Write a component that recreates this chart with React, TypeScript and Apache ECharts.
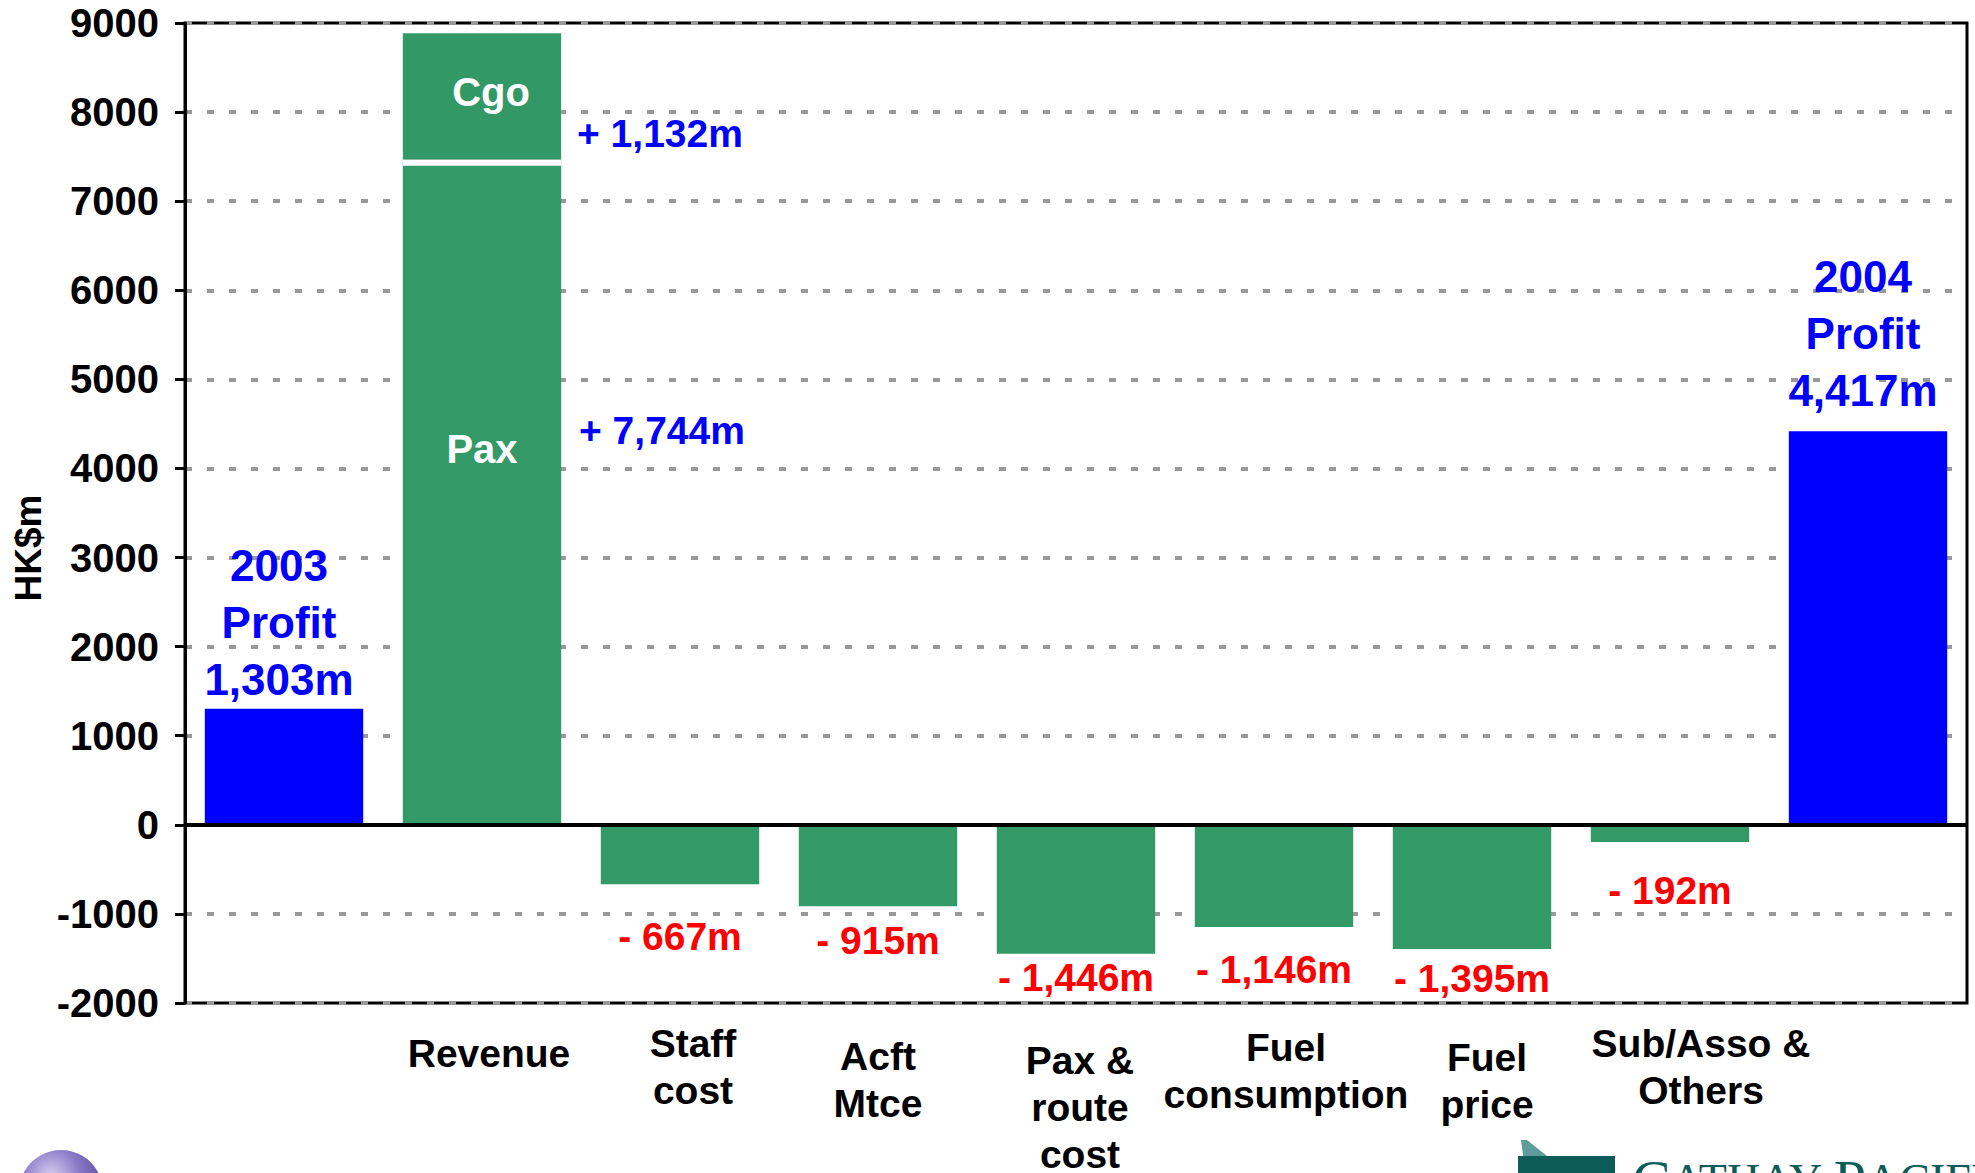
import React, { useEffect, useRef } from 'react';
import * as echarts from 'echarts';

// ---- data ----
const categories = ['', 'Revenue', 'Staff\ncost', 'Acft\nMtce', 'Pax &\nroute\ncost', 'Fuel\nconsumption', 'Fuel\nprice', 'Sub/Asso &\nOthers', ''];
const profitValues: (number | string)[] = [1303, '-', '-', '-', '-', '-', '-', '-', 4417];
const paxValues: (number | string)[] = ['-', 7465, '-', '-', '-', '-', '-', '-', '-'];
const cgoValues: (number | string)[] = ['-', 1420, '-', '-', '-', '-', '-', '-', '-'];
const costValues: (number | string)[] = ['-', '-', -667, -915, -1446, -1146, -1395, -192, '-'];
const profitLabels = ['2003\nProfit\n1,303m', '', '', '', '', '', '', '', '2004\nProfit\n4,417m'];
const costLabels = ['', '', '- 667m', '- 915m', '- 1,446m', '- 1,146m', '- 1,395m', '- 192m', ''];
const paxLabel = 'Pax';
const cgoLabel = 'Cgo';
const paxChangeLabel = '+ 7,744m';
const cgoChangeLabel = '+ 1,132m';
const yMin = -2000;
const yMax = 9000;
const yInterval = 1000;
const yAxisTitle = 'HK$m';

// ---- styling (not data) ----
const costLabelGap = [0, 0, 30, 12, 2, 21, 7, 27, 0];
const profitLabelGap = [1, 0, 0, 0, 0, 0, 0, 0, 12];
const catPadTop = [0, 10, 0, 13, 17, 4, 14, 0, 0];
const catPadLeft = [0, 14, 26, 0, 8, 24, 30, 62, 0];

const FONT = "'Liberation Sans', Arial, Helvetica, sans-serif";
const GREEN = '#339966';
const BLUE = '#0000FF';
const RED = '#FF0000';

export default function App() {
  const ref = useRef<HTMLDivElement>(null);

  useEffect(() => {
    if (!ref.current) return;
    const chart = echarts.init(ref.current, null, { renderer: 'svg' });

    const option: any = {
      animation: false,
      backgroundColor: '#ffffff',
      grid: {
        left: 185,
        right: 8,
        top: 23,
        bottom: 170,
        containLabel: false,
        outerBoundsMode: 'none',
        show: true,
        borderColor: '#000',
        borderWidth: 3,
        backgroundColor: 'transparent',
      },
      xAxis: {
        type: 'category',
        data: categories.map((c, i) => ({
          value: c,
          textStyle: { padding: [catPadTop[i], 0, 0, catPadLeft[i]] },
        })),
        axisLine: { show: false, onZero: false },
        axisTick: { show: false },
        axisLabel: {
          interval: 0,
          color: '#000',
          fontFamily: FONT,
          fontWeight: 'bold',
          fontSize: 39,
          lineHeight: 47,
          margin: 17,
        },
        splitLine: { show: false },
      },
      yAxis: {
        type: 'value',
        min: yMin,
        max: yMax,
        interval: yInterval,
        axisLine: { show: true, onZero: false, lineStyle: { color: '#000', width: 3 } },
        axisTick: { show: true, inside: false, length: 10, lineStyle: { color: '#000', width: 3 } },
        axisLabel: {
          color: '#000',
          fontFamily: FONT,
          fontWeight: 'bold',
          fontSize: 40,
          margin: 26,
          formatter: (v: number) => String(v),
        },
        splitLine: {
          show: true,
          lineStyle: { color: '#999999', width: 4, type: [7, 15] },
        },
      },
      series: [
        {
          name: 'Profit',
          type: 'bar',
          barWidth: '80%',
          barGap: '-100%',
          data: profitValues.map((v, i) => ({
            value: v,
            label: { distance: profitLabelGap[i] },
          })),
          itemStyle: { color: BLUE },
          label: {
            show: true,
            position: 'top',
            offset: [-5, 0],
            color: BLUE,
            fontFamily: FONT,
            fontWeight: 'bold',
            fontSize: 44,
            lineHeight: 57,
            align: 'center',
            formatter: (p: any) => profitLabels[p.dataIndex],
          },
        },
        {
          name: 'Pax',
          type: 'bar',
          stack: 'rev',
          barWidth: '80%',
          barGap: '-100%',
          data: paxValues,
          itemStyle: { color: GREEN },
          label: {
            show: true,
            position: 'inside',
            offset: [0, -43],
            color: '#fff',
            fontFamily: FONT,
            fontWeight: 'bold',
            fontSize: 40,
            formatter: () => paxLabel,
          },
          markPoint: {
            symbol: 'circle',
            symbolSize: 0,
            silent: true,
            label: {
              show: true,
              position: 'right',
              distance: 0,
              color: BLUE,
              fontFamily: FONT,
              fontWeight: 'bold',
              fontSize: 39,
            },
            data: [
              { coord: [1, 4430], label: { offset: [97, 0], formatter: paxChangeLabel } },
              { coord: [1, 7760], label: { offset: [95, 0], formatter: cgoChangeLabel } },
            ],
          },
        },
        {
          name: 'Cgo',
          type: 'bar',
          stack: 'rev',
          barWidth: '80%',
          barGap: '-100%',
          data: cgoValues,
          itemStyle: {
            color: GREEN,
            shadowColor: '#ffffff',
            shadowBlur: 0,
            shadowOffsetX: 0,
            shadowOffsetY: 6,
          },
          label: {
            show: true,
            position: 'inside',
            offset: [9, -5],
            color: '#fff',
            fontFamily: FONT,
            fontWeight: 'bold',
            fontSize: 40,
            formatter: () => cgoLabel,
          },
        },
        {
          name: 'Costs',
          type: 'bar',
          barWidth: '80%',
          barGap: '-100%',
          data: costValues.map((v, i) => ({
            value: v,
            label: { distance: costLabelGap[i] },
          })),
          itemStyle: { color: GREEN },
          label: {
            show: true,
            position: 'bottom',
            color: RED,
            fontFamily: FONT,
            fontWeight: 'bold',
            fontSize: 39,
            lineHeight: 44,
            formatter: (p: any) => costLabels[p.dataIndex],
          },
          markLine: {
            silent: true,
            symbol: ['none', 'none'],
            label: { show: false },
            lineStyle: { color: '#000', width: 4, type: 'solid' },
            data: [{ yAxis: 0 }],
          },
        },
      ],
      graphic: [
        {
          type: 'text',
          x: 28,
          y: 548,
          rotation: Math.PI / 2,
          style: {
            text: yAxisTitle,
            fill: '#000',
            font: `bold 37px ${FONT}`,
            align: 'center',
            verticalAlign: 'middle',
          },
        },
        {
          type: 'circle',
          shape: { cx: 61, cy: 1192, r: 42 },
          style: {
            fill: {
              type: 'radial',
              x: 0.38,
              y: 0.3,
              r: 0.75,
              colorStops: [
                { offset: 0, color: '#d4cdef' },
                { offset: 0.45, color: '#8a7bc8' },
                { offset: 1, color: '#4c3d92' },
              ],
            },
          },
        },
        {
          type: 'polygon',
          shape: { points: [[1521, 1140], [1527, 1140], [1552, 1160], [1524, 1162]] },
          style: { fill: '#5d9c98' },
        },
        {
          type: 'rect',
          shape: { x: 1518, y: 1156, width: 97, height: 30 },
          style: { fill: '#0d5c59' },
        },
        {
          type: 'text',
          x: 1632,
          y: 1151,
          style: {
            text: '{a|C}{b|ATHAY }{a|P}{b|ACIFIC}',
            verticalAlign: 'top',
            rich: {
              a: { fontSize: 58, fontFamily: "'Liberation Serif', serif", fill: '#0d5c59' },
              b: { fontSize: 46, fontFamily: "'Liberation Serif', serif", fill: '#0d5c59' },
            },
          },
        },
      ],
    };

    chart.setOption(option);
    return () => chart.dispose();
  }, []);

  return (
    <div
      ref={ref}
      style={{ position: 'absolute', left: 0, top: 0, width: 1975, height: 1173, background: '#fff' }}
    />
  );
}
